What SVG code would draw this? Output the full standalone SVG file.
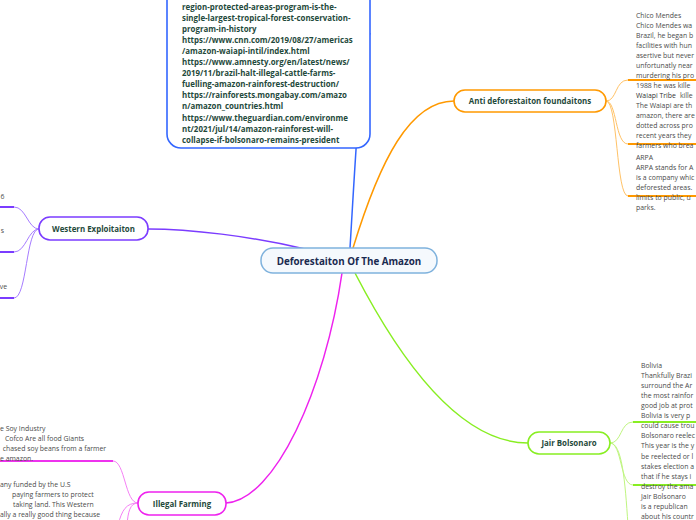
<svg xmlns="http://www.w3.org/2000/svg" width="696" height="520" viewBox="0 0 696 520">
<style>
.bg{fill:#ffffff}
.node{fill:#ffffff;stroke-width:1.6}
.lbl{font-family:"Open Sans","Liberation Sans",sans-serif;font-weight:700;font-size:7.9px;fill:#1f4a3c;text-anchor:middle}
.body{font-family:"Open Sans","Liberation Sans",sans-serif;font-size:6.9px;fill:#4a4a4a}
.url{font-family:"Open Sans","Liberation Sans",sans-serif;font-weight:700;font-size:7.9px;fill:#1f4a3c}
.main{fill:none;stroke-width:1.5}
.br{fill:none;stroke-width:1}
.ul{fill:none;stroke-width:2}
</style>
<rect class="bg" x="0" y="0" width="696" height="520"/>

<g id="connectors">
  <path class="main" stroke="#3366ff" d="M350,248 C356,150 360,60 370,33"/>
  <path class="main" stroke="#ff9900" d="M353,248 C380,160 410,101 454,101"/>
  <path class="main" stroke="#7b3cff" d="M148,229 C190,229 250,236 305,249"/>
  <path class="main" stroke="#ee22ee" d="M342,273 C325,390 275,500 226,503"/>
  <path class="main" stroke="#88ee22" d="M355,273 C400,360 460,443 528,443"/>

  <path class="br" stroke="#ffc266" d="M606,101 C617,101 615,80 628,80"/>
  <path class="br" stroke="#ffc266" d="M606,101 C617,101 615,144 628,144"/>
  <path class="br" stroke="#ffc266" d="M606,101 C618,101 616,196 628,196"/>
  <path class="ul" stroke="#ff9900" d="M628,80 L696,80 M628,144 L696,144 M628,196 L696,196"/>

  <path class="br" stroke="#a67cff" d="M39,229 C28,229 26,207 14,207"/>
  <path class="br" stroke="#a67cff" d="M39,229 C28,229 26,252 14,252"/>
  <path class="br" stroke="#a67cff" d="M39,229 C26,229 27,298 14,298"/>
  <path class="ul" stroke="#7b3cff" d="M0,207 L14,207 M0,252 L14,252 M0,298 L14,298"/>

  <path class="br" stroke="#f580f5" d="M138,503 C125,503 125,461 113,461"/>
  <path class="br" stroke="#f580f5" d="M138,503 C126,503 122,510 118,525"/>
  <path class="br" stroke="#f580f5" d="M138,503 C130,503 128,512 127,525"/>
  <path class="ul" stroke="#ee33ee" d="M0,461 L113,461"/>

  <path class="br" stroke="#bff580" d="M610,443 C622,443 620,422 633,422"/>
  <path class="br" stroke="#bff580" d="M610,443 C622,443 620,485 633,485"/>
  <path class="br" stroke="#bff580" d="M610,443 C622,443 625,480 628,525"/>
  <path class="ul" stroke="#88ee22" d="M633,422 L696,422 M633,485 L696,485"/>
</g>

<g id="sources">
  <rect class="node" stroke="#3366ff" x="167" y="-100" width="203" height="248" rx="14"/>
  <text class="url" x="182">
    <tspan x="182" y="9.5">region-protected-areas-program-is-the-</tspan>
    <tspan x="182" y="20.6">single-largest-tropical-forest-conservation-</tspan>
    <tspan x="182" y="31.7">program-in-history</tspan>
    <tspan x="182" y="42.8">https://www.cnn.com/2019/08/27/americas</tspan>
    <tspan x="182" y="53.9">/amazon-waiapi-intil/index.html</tspan>
    <tspan x="182" y="65">https://www.amnesty.org/en/latest/news/</tspan>
    <tspan x="182" y="76.1">2019/11/brazil-halt-illegal-cattle-farms-</tspan>
    <tspan x="182" y="87.2">fuelling-amazon-rainforest-destruction/</tspan>
    <tspan x="182" y="98.3">https://rainforests.mongabay.com/amazo</tspan>
    <tspan x="182" y="109.4">n/amazon_countries.html</tspan>
    <tspan x="182" y="120.5">https://www.theguardian.com/environme</tspan>
    <tspan x="182" y="131.6">nt/2021/jul/14/amazon-rainforest-will-</tspan>
    <tspan x="182" y="142.7">collapse-if-bolsonaro-remains-president</tspan>
  </text>
</g>

<g id="central">
  <rect x="261" y="248" width="176" height="25" rx="12" fill="#f5f9fd" stroke="#7fb2dd" stroke-width="1.5"/>
  <text x="349" y="264.6" font-family="'Open Sans','Liberation Sans',sans-serif" font-weight="700" font-size="9.8px" fill="#1a2a50" text-anchor="middle">Deforestaiton Of The Amazon</text>
</g>

<g id="anti">
  <rect class="node" stroke="#ff9900" x="454" y="90" width="152" height="22" rx="11"/>
  <text class="lbl" x="530" y="104">Anti deforestaiton foundaitons</text>
</g>

<g id="western">
  <rect class="node" stroke="#7b3cff" x="39" y="217" width="109" height="23" rx="11"/>
  <text class="lbl" x="93.5" y="231.5">Western Exploitaiton</text>
</g>

<g id="illegal">
  <rect class="node" stroke="#ee22ee" x="138" y="492" width="88" height="23" rx="11"/>
  <text class="lbl" x="182" y="506.5">Illegal Farming</text>
</g>

<g id="jair">
  <rect class="node" stroke="#88ee22" x="528" y="432" width="82" height="22" rx="11"/>
  <text class="lbl" x="569" y="446">Jair Bolsonaro</text>
</g>

<g id="chico">
  <text class="body">
    <tspan x="636" y="17.5">Chico Mendes</tspan>
    <tspan x="636" y="27.5">Chico Mendes wa</tspan>
    <tspan x="636" y="37.5">Brazil, he began b</tspan>
    <tspan x="636" y="47.5">facilities with hun</tspan>
    <tspan x="636" y="57.5">asertive but never</tspan>
    <tspan x="636" y="67.5">unfortunatly near</tspan>
    <tspan x="636" y="77.5">murdering his pro</tspan>
    <tspan x="636" y="87.5">1988 he was kille</tspan>
    <tspan x="680" y="97.5">kille</tspan>
  </text>
</g>

<g id="waiapi">
  <text class="body">
    <tspan x="636" y="97.5" fill="#333">Waiapi Tribe</tspan>
    <tspan x="636" y="107.5">The Waiapi are th</tspan>
    <tspan x="636" y="117.5">amazon, there are</tspan>
    <tspan x="636" y="127.5">dotted across pro</tspan>
    <tspan x="636" y="137.5">recent years they</tspan>
    <tspan x="636" y="147.5">farmers who brea</tspan>
  </text>
</g>

<g id="arpa">
  <text class="body">
    <tspan x="636" y="159.5">ARPA</tspan>
    <tspan x="636" y="169.5">ARPA stands for A</tspan>
    <tspan x="636" y="179.5">is a company whic</tspan>
    <tspan x="636" y="189.5">deforested areas.</tspan>
    <tspan x="636" y="199.5">limits to public, u</tspan>
    <tspan x="636" y="209.5">parks.</tspan>
  </text>
</g>

<g id="western-items">
  <text class="body" text-anchor="end" x="4.5" y="198.5">6</text>
  <text class="body" text-anchor="end" x="4" y="233">s</text>
  <text class="body" text-anchor="end" x="7" y="289">ve</text>
</g>

<g id="soy">
  <text class="body">
    <tspan x="0" y="430.8">e Soy Industry</tspan>
    <tspan x="5" y="440.8">Cofco Are all food Giants</tspan>
    <tspan x="2.7" y="451">chased soy beans from a farmer</tspan>
    <tspan x="0" y="461">e amazon.</tspan>
  </text>
</g>

<g id="funded">
  <text class="body">
    <tspan x="0" y="486.8">any funded by the U.S</tspan>
    <tspan x="12" y="496.8">paying farmers to protect</tspan>
    <tspan x="13" y="506.8">taking land. This Western</tspan>
    <tspan x="0" y="517">ally a really good thing because</tspan>
  </text>
</g>

<g id="bolivia">
  <text class="body">
    <tspan x="641" y="367.5">Bolivia</tspan>
    <tspan x="641" y="377.5">Thankfully Brazi</tspan>
    <tspan x="641" y="387.5">surround the Ar</tspan>
    <tspan x="641" y="397.5">the most rainfor</tspan>
    <tspan x="641" y="407.5">good job at prot</tspan>
    <tspan x="641" y="417.5">Bolivia is very p</tspan>
    <tspan x="641" y="427.5">could cause trou</tspan>
  </text>
</g>

<g id="reelection">
  <text class="body">
    <tspan x="641" y="438">Bolsonaro reelec</tspan>
    <tspan x="641" y="448">This year is the y</tspan>
    <tspan x="641" y="458.5">be reelected or l</tspan>
    <tspan x="641" y="468.5">stakes election a</tspan>
    <tspan x="641" y="478.5">that if he stays i</tspan>
    <tspan x="641" y="488.5">destroy the ama</tspan>
  </text>
</g>

<g id="jair-info">
  <text class="body">
    <tspan x="641" y="498.5">Jair Bolsonaro</tspan>
    <tspan x="641" y="508.5"> is a republican</tspan>
    <tspan x="641" y="518.5">about his countr</tspan>
  </text>
</g>
</svg>
